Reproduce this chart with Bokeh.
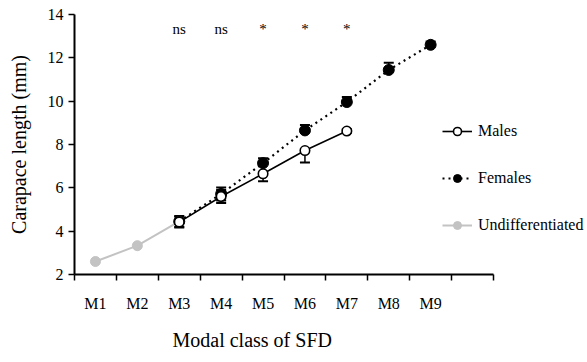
from bokeh.plotting import figure
from bokeh.models import (FixedTicker, Legend, LegendItem, Whisker, ColumnDataSource,
                          TeeHead, Range1d, Title)
from bokeh.core.properties import value
from bokeh.embed import file_html
from bokeh.resources import INLINE

# ---- data ----
classes = ["M1", "M2", "M3", "M4", "M5", "M6", "M7", "M8", "M9"]

undiff_classes = ["M1", "M2", "M3"]
undiff_cl = [2.6, 3.33, 4.45]

male_classes = ["M3", "M4", "M5", "M6", "M7"]
male_cl = [4.42, 5.6, 6.65, 7.72, 8.62]
male_err_up = [0.25, 0.3, 0.0, 0.0, 0.08]
male_err_down = [0.25, 0.3, 0.35, 0.55, 0.08]

female_classes = ["M3", "M4", "M5", "M6", "M7", "M8", "M9"]
female_cl = [4.45, 5.72, 7.14, 8.65, 9.96, 11.44, 12.6]
female_err_up = [0.25, 0.3, 0.22, 0.25, 0.23, 0.33, 0.15]
female_err_down = [0.25, 0.3, 0.0, 0.0, 0.0, 0.0, 0.0]

sig_classes = ["M3", "M4", "M5", "M6", "M7"]
sig_labels = ["ns", "ns", "*", "*", "*"]
sig_level = 13.35

y_ticks = [2, 4, 6, 8, 10, 12, 14]

FONT = "Liberation Serif"
GRAY = "#c3c3c3"

pos = {c: i + 0.5 for i, c in enumerate(classes)}
n_slots = len(classes) + 1

# frame spans to the right edge so the legend is not clipped; the axis is bounded
AXIS_PX = 419
FRAME_PX = 513
x_end = n_slots * FRAME_PX / AXIS_PX

p = figure(width=587, height=362, output_backend="svg", toolbar_location=None,
           x_range=Range1d(0, x_end), y_range=Range1d(2, 14),
           min_border_left=74, min_border_right=0, min_border_top=14,
           min_border_bottom=88)
p.outline_line_color = None
p.grid.visible = False
p.background_fill_color = "white"
p.border_fill_color = "white"


def whiskers(cls, vals, up, down, color):
    xs = [pos[c] for c in cls]
    ux = [x for x, u in zip(xs, up) if u > 0]
    ub = [v for v, u in zip(vals, up) if u > 0]
    uu = [v + u for v, u in zip(vals, up) if u > 0]
    dx = [x for x, d in zip(xs, down) if d > 0]
    db = [v for v, d in zip(vals, down) if d > 0]
    dd = [v - d for v, d in zip(vals, down) if d > 0]
    w1 = Whisker(source=ColumnDataSource(dict(x=ux, lo=ub, hi=uu)), base="x",
                 lower="lo", upper="hi", dimension="height", line_color=color,
                 line_width=1.5, lower_head=None,
                 upper_head=TeeHead(size=10, line_color=color, line_width=2),
                 level="underlay")
    w2 = Whisker(source=ColumnDataSource(dict(x=dx, lo=dd, hi=db)), base="x",
                 lower="lo", upper="hi", dimension="height", line_color=color,
                 line_width=1.5, upper_head=None,
                 lower_head=TeeHead(size=10, line_color=color, line_width=2),
                 level="underlay")
    p.add_layout(w1)
    p.add_layout(w2)


# undifferentiated
ux = [pos[c] for c in undiff_classes]
u_line = p.line(ux, undiff_cl, line_color=GRAY, line_width=2)
u_pts = p.scatter(ux, undiff_cl, size=10, fill_color=GRAY, line_color=GRAY)

# males
mx = [pos[c] for c in male_classes]
whiskers(male_classes, male_cl, male_err_up, male_err_down, "black")
m_line = p.line(mx, male_cl, line_color="black", line_width=1.6)

# females
fx = [pos[c] for c in female_classes]
whiskers(female_classes, female_cl, female_err_up, female_err_down, "black")
f_line = p.line(fx, female_cl, line_color="black", line_width=2.2, line_dash="2 4")
f_pts = p.scatter(fx, female_cl, size=11, fill_color="black", line_color="black")
m_pts = p.scatter(mx, male_cl, size=9.5, fill_color="white", line_color="black",
                  line_width=1.6)

# significance labels
sx = [pos[c] for c in sig_classes]
p.text(sx, [sig_level] * len(sx), text=sig_labels, text_align="center",
       text_baseline="middle", text_font=value(FONT), text_font_size="15px",
       text_color="black")

# axes
xa = p.xaxis[0]
xa.bounds = (0, n_slots)
xa.ticker = FixedTicker(ticks=[pos[c] for c in classes],
                        minor_ticks=list(range(n_slots + 1)))
xa.major_label_overrides = {pos[c]: c for c in classes}
xa.major_tick_out = 0
xa.major_tick_in = 0
xa.minor_tick_out = 6
xa.minor_tick_in = 0
xa.minor_tick_line_width = 1.5
xa.minor_tick_line_color = "black"
xa.axis_line_width = 2
xa.axis_line_color = "black"
xa.major_label_standoff = 14
xa.major_label_text_font = FONT
xa.major_label_text_font_size = "16px"
xa.major_label_text_color = "black"

xtitle = Title(text="Modal class of SFD", align="left", offset=98,
               text_font=FONT, text_font_size="20px", text_font_style="normal",
               text_color="black", standoff=24)
p.add_layout(xtitle, "below")

ya = p.yaxis[0]
ya.ticker = FixedTicker(ticks=y_ticks)
ya.minor_tick_out = 0
ya.minor_tick_in = 0
ya.major_tick_out = 6
ya.major_tick_in = 0
ya.major_tick_line_width = 1.5
ya.major_tick_line_color = "black"
ya.axis_line_width = 2
ya.axis_line_color = "black"
ya.major_label_standoff = 5
ya.major_label_text_font = FONT
ya.major_label_text_font_size = "16px"
ya.major_label_text_color = "black"
ya.axis_label = "Carapace length (mm)"
ya.axis_label_text_font = FONT
ya.axis_label_text_font_size = "20px"
ya.axis_label_text_font_style = "normal"
ya.axis_label_text_color = "black"
ya.axis_label_standoff = 15

legend = Legend(items=[
    LegendItem(label="Males", renderers=[m_line, m_pts]),
    LegendItem(label="Females", renderers=[f_line, f_pts]),
    LegendItem(label="Undifferentiated", renderers=[u_line, u_pts]),
], location=(368, 39))
legend.label_text_font = FONT
legend.label_text_font_size = "16px"
legend.label_text_color = "black"
legend.glyph_width = 30
legend.glyph_height = 20
legend.label_height = 20
legend.label_standoff = 6
legend.spacing = 27
legend.padding = 0
legend.margin = 0
legend.border_line_color = None
legend.background_fill_alpha = 0
p.add_layout(legend, "center")

open("out.html", "w").write(file_html(p, INLINE))
